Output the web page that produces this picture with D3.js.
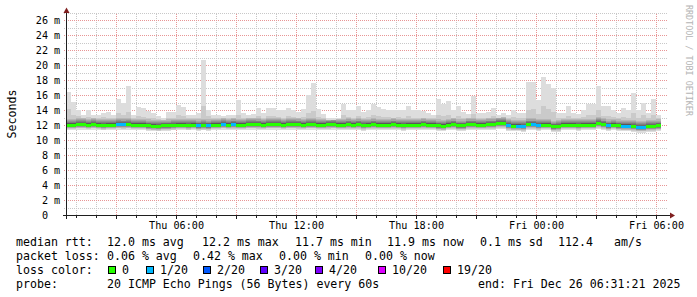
<!DOCTYPE html>
<html><head><meta charset="utf-8">
<script src="https://cdn.jsdelivr.net/npm/d3@7"></script>
<style>
html,body{margin:0;padding:0;background:#fff;}
svg{display:block;}
text{font-family:"DejaVu Sans Mono",monospace;white-space:pre;}
</style></head>
<body>
<script>
// ---------- data ----------
const startTime = Date.UTC(2025, 11, 25, 0, 31, 21);   // Thu
const endTime   = Date.UTC(2025, 11, 26, 6, 31, 21);   // Fri
const stepMinutes = 15;

// ping 20 (maximum) per column, ms
const rttMax = [16.4,15.1,14.0,13.4,14.0,13.4,13.3,13.6,13.8,13.3,
  15.5,14.9,17.2,13.3,14.4,14.3,13.9,13.6,13.2,12.9,
  13.7,13.7,14.7,14.4,13.3,13.4,13.6,20.7,14.0,13.3,
  13.3,13.2,13.4,13.3,15.3,13.6,13.4,13.5,14.3,13.6,
  14.3,14.3,14.0,14.0,14.3,14.0,13.8,14.2,16.0,17.6,
  14.1,13.5,13.0,13.0,13.0,14.8,14.0,14.0,14.5,13.8,
  14.0,14.8,14.4,14.2,14.0,14.0,14.0,14.0,14.5,14.0,
  14.0,13.9,13.6,13.4,15.5,14.8,15.2,14.0,14.6,13.8,
  13.5,15.9,13.6,13.6,13.8,14.3,13.4,13.6,13.4,14.0,
  13.6,13.6,17.7,17.7,15.3,18.4,17.5,16.9,13.6,13.6,
  14.5,13.6,13.5,14.0,14.8,14.8,17.2,14.5,14.5,14.0,
  13.6,14.3,14.0,16.3,14.0,15.0,13.6,15.5,13.3];
// ping 19 per column, ms
const rttHigh = [14.2,13.4,13.2,13.0,13.1,12.9,13.0,13.1,13.0,12.9,
  13.6,13.3,13.8,12.9,13.2,13.1,13.0,12.9,12.8,12.7,
  12.9,13.0,13.3,13.2,12.9,13.0,13.0,14.5,13.2,12.9,
  12.9,12.9,13.0,12.9,13.4,13.0,13.0,13.0,13.2,13.0,
  13.2,13.2,13.1,13.0,13.2,13.1,13.0,13.1,13.6,13.9,
  13.1,12.9,12.7,12.7,12.8,13.3,13.1,13.0,13.2,13.0,
  13.1,13.3,13.2,13.1,13.1,13.0,13.1,13.0,13.2,13.0,
  13.0,13.0,12.9,12.9,13.4,13.2,13.3,13.0,13.2,12.9,
  12.9,13.5,13.0,13.0,13.0,13.2,13.0,13.1,12.9,13.1,
  13.0,13.0,14.0,14.2,13.5,14.6,14.2,13.8,13.0,13.0,
  13.2,13.0,12.9,13.1,13.3,13.3,14.0,13.2,13.2,13.1,
  12.9,13.1,13.0,13.6,13.0,13.3,12.9,13.4,12.9];
// median rtt per column, ms
const rttMedian = [12.0,12.0,12.1,12.1,12.0,12.1,12.0,11.95,12.0,12.0,
  12.1,12.05,12.1,12.0,12.0,12.0,11.9,11.85,11.8,11.9,
  11.9,11.95,12.0,12.0,11.95,12.0,11.9,11.95,11.9,12.0,
  12.0,12.1,12.0,12.05,12.0,12.0,12.1,12.1,12.05,12.0,
  12.1,12.1,12.1,12.0,12.1,12.1,12.05,12.0,12.1,12.1,
  12.0,12.0,12.05,12.1,12.0,12.0,12.05,12.0,12.05,11.95,
  12.0,12.05,12.0,12.0,12.0,12.05,12.0,11.95,12.0,12.0,
  12.0,12.05,12.0,12.0,11.9,11.85,12.0,12.05,11.9,11.9,
  12.05,12.05,12.0,12.0,12.05,12.05,12.2,12.2,11.95,11.85,
  11.85,11.8,12.05,12.05,11.95,12.0,12.0,11.75,11.8,12.0,
  12.0,12.0,11.95,12.0,12.0,12.0,12.2,12.05,11.9,12.0,
  11.9,11.85,11.85,11.8,11.7,11.7,11.8,11.8,11.9];
// ping 1 (minimum) per column, ms
const rttLow = [11.3,11.35,11.4,11.4,11.35,11.4,11.3,11.3,11.35,11.3,
  11.35,11.3,11.4,11.35,11.3,11.3,11.25,11.2,11.2,11.25,
  11.25,11.3,11.3,11.35,11.3,11.3,11.25,11.3,11.25,11.3,
  11.35,11.4,11.3,11.35,11.3,11.3,11.4,11.4,11.35,11.3,
  11.4,11.4,11.35,11.3,11.4,11.4,11.35,11.3,11.4,11.4,
  11.3,11.3,11.35,11.4,11.3,11.3,11.35,11.3,11.35,11.25,
  11.3,11.35,11.3,11.3,11.3,11.35,11.3,11.25,11.3,11.3,
  11.3,11.35,11.3,11.3,11.2,11.15,11.3,11.35,11.2,11.2,
  11.35,11.35,11.3,11.3,11.35,11.35,11.45,11.45,11.25,11.2,
  11.15,11.1,11.35,11.3,11.25,11.3,11.3,11.1,11.1,11.3,
  11.3,11.3,11.25,11.3,11.3,11.3,11.45,11.35,11.2,11.3,
  11.2,11.15,11.15,11.1,11.0,11.0,11.1,11.1,11.2];
// lost pings out of 20 per column
const lossCount = [0,0,0,0,0,0,0,0,0,0, 1,1,0,0,0,0,0,0,0,0,
  0,0,0,0,0,0,1,0,1,0, 0,1,0,1,0,0,0,0,0,0,
  0,0,0,0,0,0,0,0,0,0, 0,0,0,0,0,0,0,0,0,0,
  0,0,0,0,0,0,0,0,0,0, 0,0,0,0,0,0,0,0,0,0,
  0,0,0,0,0,0,0,0,1,0, 1,1,0,1,1,0,0,0,0,0,
  0,0,0,0,0,0,0,0,1,0, 0,1,1,0,1,1,0,0,0];
// inner pings (18..11 above, 2..10 below) relative to the median, ms
const smokeUpperOffsets = [0.85,0.70,0.55,0.42,0.32,0.22,0.13,0.06];
const smokeLowerOffsets = [-0.55,-0.45,-0.37,-0.30,-0.24,-0.18,-0.13,-0.08,-0.04];

const yTicks = [0,2,4,6,8,10,12,14,16,18,20,22,24,26];
const xTickLabels = ["Thu 06:00","Thu 12:00","Thu 18:00","Fri 00:00","Fri 06:00"];
const xTickTimes = [Date.UTC(2025,11,25,6),Date.UTC(2025,11,25,12),Date.UTC(2025,11,25,18),
                    Date.UTC(2025,11,26,0),Date.UTC(2025,11,26,6)];
const lossLevels = [0,1,2,3,4,10,19];
const lossLabels = ["0","1/20","2/20","3/20","4/20","10/20","19/20"];
const lossColors = ["#26ff00","#00b8ff","#0059ff","#5e00ff","#7e00ff","#dd00ff","#ff0000"];

// ---------- drawing ----------
const W = 697, H = 297;
const svg = d3.select("body").append("svg").attr("width", W).attr("height", H);
const x = d3.scaleUtc().domain([startTime, endTime]).range([66, 666]);
const y = d3.scaleLinear().domain([0, 27.07]).range([215, 12]);
const px = v => Math.round(v) + 0.5;

// grid
const gGrid = svg.append("g");
const hours = d3.utcHour.every(1).range(new Date(startTime), new Date(endTime));
hours.forEach(h => {
  const major = h.getUTCHours() % 3 === 0;
  gGrid.append("line").attr("x1", px(x(h))).attr("x2", px(x(h)))
    .attr("y1", 217).attr("y2", 13)
    .attr("stroke", major ? "rgb(232,150,150)" : "rgb(200,200,200)")
    .attr("stroke-dasharray", "1,1");
});
d3.range(1, 28).forEach(v => {
  const major = v % 2 === 0;
  gGrid.append("line").attr("x1", 64).attr("x2", 668)
    .attr("y1", px(y(v))).attr("y2", px(y(v)))
    .attr("stroke", major ? "rgb(232,150,150)" : "rgb(200,200,200)")
    .attr("stroke-dasharray", "1,1");
});

// smoke
const gSmoke = svg.append("g").attr("shape-rendering", "crispEdges");
const colStart = i => x(startTime + i * stepMinutes * 60000);
rttMedian.forEach((m, i) => {
  const pings = new Array(21);
  pings[1] = rttLow[i];
  smokeLowerOffsets.forEach((o, k) => { pings[2 + k] = Math.max(rttLow[i], m + o); });
  smokeUpperOffsets.forEach((o, k) => { pings[18 - k] = Math.min(rttHigh[i], m + o); });
  pings[19] = rttHigh[i];
  pings[20] = rttMax[i];
  const x0 = Math.round(colStart(i)), x1 = Math.round(colStart(i + 1));
  for (let k = 1; k <= 10; k++) {
    const c = Math.floor(190 / 10 * (10 - k)) + 50;
    const top = y(pings[21 - k]), bot = y(pings[k]);
    gSmoke.append("rect").attr("x", x0).attr("width", x1 - x0)
      .attr("y", top).attr("height", Math.max(0, bot - top))
      .attr("fill", d3.rgb(c, c, c));
  }
});

// median line coloured by loss
const gMed = svg.append("g").attr("shape-rendering", "crispEdges");
const lossColor = n => {
  let idx = 0;
  lossLevels.forEach((l, j) => { if (n >= l) idx = j; });
  return lossColors[idx];
};
rttMedian.forEach((m, i) => {
  const x0 = Math.round(colStart(i)), x1 = Math.round(colStart(i + 1));
  gMed.append("rect").attr("x", x0).attr("width", x1 - x0)
    .attr("y", Math.round(y(m) - 1.5)).attr("height", 3)
    .attr("fill", lossColor(lossCount[i]));
});

// axes
const axisCol = "#1f1f1f", arrowCol = "#7f1f1f";
const gAx = svg.append("g").attr("shape-rendering", "crispEdges");
gAx.append("line").attr("x1", 63).attr("x2", 670).attr("y1", 215.5).attr("y2", 215.5).attr("stroke", axisCol);
gAx.append("line").attr("x1", 66.5).attr("x2", 66.5).attr("y1", 219).attr("y2", 12).attr("stroke", axisCol);
hours.forEach(h => {
  const major = h.getUTCHours() % 3 === 0;
  gAx.append("line").attr("x1", px(x(h))).attr("x2", px(x(h)))
    .attr("y1", 216).attr("y2", major ? 219 : 218).attr("stroke", axisCol);
});
svg.append("path").attr("d", "M670,212.5L675,215.5L670,218.5Z").attr("fill", arrowCol);
svg.append("path").attr("d", "M63.5,13L66.5,7.5L69.5,13Z").attr("fill", arrowCol);

// y labels
const gY = svg.append("g").attr("font-size", "10.15px").attr("fill", "#000");
yTicks.forEach(v => {
  gY.append("text").attr("x", 48).attr("y", y(v) + 3.6).attr("text-anchor", "end").text(String(v));
  if (v !== 0) gY.append("text").attr("x", 54).attr("y", y(v) + 3.6).text("m");
});
// x labels
const gX = svg.append("g").attr("font-size", "10.15px").attr("fill", "#000");
xTickLabels.forEach((lab, i) => {
  gX.append("text").attr("x", x(xTickTimes[i]) + 1).attr("y", 229)
    .attr("text-anchor", "middle").text(lab);
});

// unit title
svg.append("text").attr("transform", "translate(15.5,114) rotate(-90)")
  .attr("text-anchor", "middle").attr("font-size", "11.6px").text("Seconds");
// watermark
svg.append("text").attr("transform", "translate(685.5,5) rotate(90)")
  .attr("font-size", "8.4px").attr("fill", "#b4b4b4").text("RRDTOOL / TOBI OETIKER");

// legend
const gL = svg.append("g").attr("font-size", "11.6px").attr("fill", "#000");
const put = (tx, xx, yy) => gL.append("text").attr("x", xx).attr("y", yy).text(tx);
put("median rtt:", 16, 245.5);
put("12.0 ms avg", 107, 245.5);
put("12.2 ms max", 202, 245.5);
put("11.7 ms min", 295, 245.5);
put("11.9 ms now", 387, 245.5);
put("0.1 ms sd", 480, 245.5);
put("112.4", 558, 245.5);
put("am/s", 614, 245.5);
put("packet loss:", 16, 259.5);
put("0.06 % avg", 107, 259.5);
put("0.42 % max", 193, 259.5);
put("0.00 % min", 279, 259.5);
put("0.00 % now", 365, 259.5);
put("loss color:", 16, 273.5);
const boxX = [108,146,203,260,315,378,443];
lossLabels.forEach((lab, i) => {
  gL.append("rect").attr("x", boxX[i] + 0.5).attr("y", 266.5).attr("width", 7).attr("height", 7)
    .attr("fill", lossColors[i]).attr("stroke", "#000").attr("shape-rendering", "crispEdges");
  put(lab, boxX[i] + 14, 273.5);
});
put("probe:", 16, 287.5);
put("20 ICMP Echo Pings (56 Bytes) every 60s", 107, 287.5);
put("end: Fri Dec 26 06:31:21 2025", 478, 287.5);
</script>
</body></html>
